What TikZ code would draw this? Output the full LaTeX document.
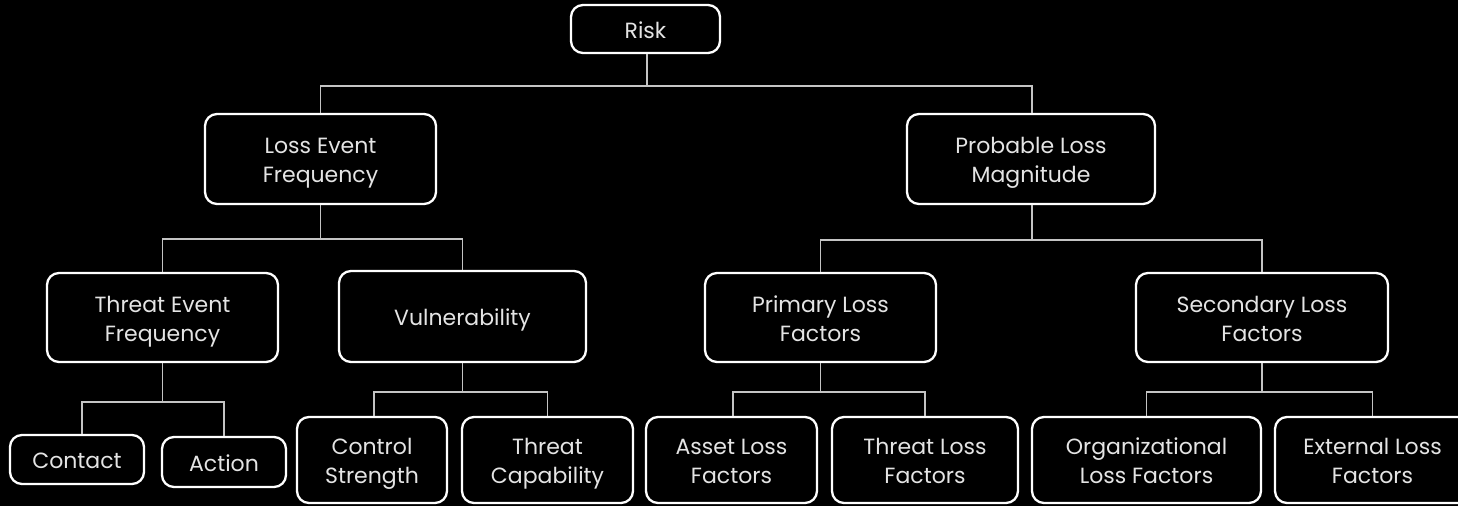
\documentclass[tikz,border=0pt]{standalone}
\usepackage{fontspec}
\setmainfont{Poppins}
\definecolor{txt}{HTML}{E4E4E4}
\definecolor{ln}{HTML}{C4C4C4}
\newcommand\lbl[1]{\raisebox{-3.5pt}[\height][\depth]{\begin{tabular}{@{}c@{}}#1\end{tabular}}}
\begin{document}
\begin{tikzpicture}[x=1pt,y=-1pt,
  box/.style={draw=white,line width=2.3pt,rounded corners=12pt,fill=black,
    text=txt,inner sep=0pt,
    font=\fontsize{22}{29}\selectfont},
  conn/.style={draw=ln,line width=1.6pt}]
\fill[black] (0,0) rectangle (1458,506);
\useasboundingbox (0,0) rectangle (1458,506);
% level 0
\node[box,minimum width=149pt,minimum height=48pt] (risk) at (645.5,29) {\lbl{Risk}};
% level 1
\node[box,minimum width=231pt,minimum height=90pt] (lef) at (320.5,159) {\lbl{Loss Event\\Frequency}};
\node[box,minimum width=248pt,minimum height=90pt] (plm) at (1031,159) {\lbl{Probable Loss\\Magnitude}};
% level 2
\node[box,minimum width=231pt,minimum height=89pt] (tef) at (162.5,317.5) {\lbl{Threat Event\\Frequency}};
\node[box,minimum width=247pt,minimum height=91pt] (vul) at (462.5,316.5) {\lbl{Vulnerability}};
\node[box,minimum width=231pt,minimum height=89pt] (plf) at (820.5,317.5) {\lbl{Primary Loss\\Factors}};
\node[box,minimum width=252pt,minimum height=89pt] (slf) at (1262,317.5) {\lbl{Secondary Loss\\Factors}};
% level 3
\node[box,minimum width=134pt,minimum height=49pt] (contact) at (77,459.5) {\lbl{Contact}};
\node[box,minimum width=124pt,minimum height=50pt] (action) at (224,462) {\lbl{Action}};
\node[box,minimum width=150pt,minimum height=86pt] (cs) at (372,460) {\lbl{Control\\Strength}};
\node[box,minimum width=171pt,minimum height=86pt] (tc) at (547.5,460) {\lbl{Threat\\Capability}};
\node[box,minimum width=171pt,minimum height=86pt] (alf) at (731.5,460) {\lbl{Asset Loss\\Factors}};
\node[box,minimum width=186pt,minimum height=86pt] (tlf) at (925,460) {\lbl{Threat Loss\\Factors}};
\node[box,minimum width=229pt,minimum height=86pt] (olf) at (1146.5,460) {\lbl{Organizational\\Loss Factors}};
\node[box,minimum width=195pt,minimum height=86pt] (elf) at (1372.5,460) {\lbl{External Loss\\Factors}};
% connectors
\draw[conn] ([xshift=1.5pt]risk.south) -- ++(0,32) -| (lef.north);
\draw[conn] ([xshift=1.5pt]risk.south) -- ++(0,32) -| ([xshift=1pt]plm.north);
\draw[conn] (lef.south) -- ++(0,34) -| (tef.north);
\draw[conn] (lef.south) -- ++(0,34) -| (vul.north);
\draw[conn] ([xshift=1pt]plm.south) -- ++(0,35) -| (plf.north);
\draw[conn] ([xshift=1pt]plm.south) -- ++(0,35) -| (slf.north);
\draw[conn] (tef.south) -- ++(0,39) -| ([xshift=5pt]contact.north);
\draw[conn] (tef.south) -- ++(0,39) -| (action.north);
\draw[conn] (vul.south) -- ++(0,29) -| ([xshift=2pt]cs.north);
\draw[conn] (vul.south) -- ++(0,29) -| (tc.north);
\draw[conn] (plf.south) -- ++(0,29) -| ([xshift=1.5pt]alf.north);
\draw[conn] (plf.south) -- ++(0,29) -| (tlf.north);
\draw[conn] (slf.south) -- ++(0,29) -| (olf.north);
\draw[conn] (slf.south) -- ++(0,29) -| (elf.north);
\end{tikzpicture}
\end{document}
